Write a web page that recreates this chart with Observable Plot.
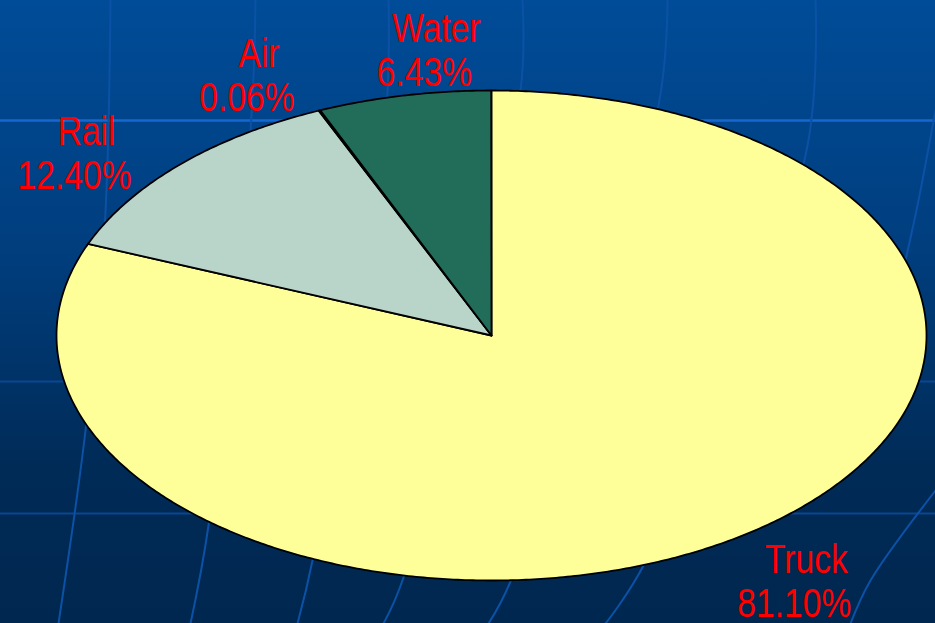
<!DOCTYPE html>
<html>
<head>
<meta charset="utf-8">
<script src="https://cdn.jsdelivr.net/npm/d3@7"></script>
<script src="https://cdn.jsdelivr.net/npm/@observablehq/plot@0.6"></script>
<style>
  html, body { margin: 0; padding: 0; }
  #stage {
    position: relative; width: 935px; height: 623px; overflow: hidden;
    background: linear-gradient(to bottom, #004c98 0%, #003e7e 40%, #002b57 75%, #00274f 100%);
  }
  #stage > svg, #stage > figure { position: absolute; left: 0; top: 0; margin: 0; }
</style>
</head>
<body>
<div id="stage"></div>
<script>
// ---- chart data ----
const modes    = ["Truck", "Rail", "Air", "Water"];
const shares   = [81.10, 12.40, 0.06, 6.43];
const pctLabel = ["81.10%", "12.40%", "0.06%", "6.43%"];
const sliceColors = ["#ffff99", "#b9d4c9", "#9fc5e8", "#226c5a"];

// ---- decorative slide background grid (pixel space) ----
const bgLines = [
  {id: "h1", kind: "bright", pts: [[0,120],[935,120]]},
  {id: "h2", kind: "faint",  pts: [[0,381],[935,381]]},
  {id: "h3", kind: "faint",  pts: [[0,513],[935,513]]},
  {id: "vA", kind: "vert", pts: [[110,0],[104,230],[85,430],[58,623]]},
  {id: "vB", kind: "vert", pts: [[255,0],[250,130],[208,525],[190,623]]},
  {id: "vC", kind: "vert", pts: [[388,0],[385,120],[312,560],[297,623]]},
  {id: "vD", kind: "vert", pts: [[522,0],[520,90],[403,577],[383,623]]},
  {id: "vE", kind: "vert", pts: [[667,0],[658,105],[510,581],[488,623]]},
  {id: "vF", kind: "vert", pts: [[815,0],[805,155],[643,565],[605,623]]},
  {id: "vG", kind: "vert", pts: [[935,110],[918,200],[905,260]]},
  {id: "vH", kind: "vert", pts: [[935,490],[870,580],[850,623]]}
];
const bgPoints = bgLines.flatMap(l => l.pts.map(([x, y]) => ({id: l.id, kind: l.kind, x, y})));

const W = 935, H = 623;
const stage = document.getElementById("stage");

const bg = Plot.plot({
  width: W, height: H, margin: 0,
  style: {background: "transparent"},
  x: {domain: [0, W], range: [0, W], axis: null},
  y: {domain: [0, H], range: [0, H], axis: null},
  color: {domain: ["bright", "faint", "vert"], range: ["#1668d0", "#0b4790", "#0b52a6"]},
  marks: [
    Plot.line(bgPoints, {x: "x", y: "y", z: "id", stroke: "kind", strokeWidth: d => d.kind === "bright" ? 2.5 : 2, curve: "catmull-rom"})
  ]
});
stage.appendChild(bg);

// ---- pie geometry (unit circle, squashed by the scales into an ellipse) ----
const rows = modes.map((m, i) => ({mode: m, share: shares[i], pct: pctLabel[i]}));
const arcs = d3.pie().sort(null).value(d => d.share).startAngle(0).endAngle(2 * Math.PI * d3.sum(shares) / 100)(rows);

const slicePts = [];
for (const a of arcs) {
  const n = Math.max(2, Math.ceil((a.endAngle - a.startAngle) / (Math.PI / 360)));
  slicePts.push({mode: a.data.mode, x: 0, y: 0});
  for (let k = 0; k <= n; k++) {
    const t = a.startAngle + (a.endAngle - a.startAngle) * k / n;
    slicePts.push({mode: a.data.mode, x: Math.sin(t), y: Math.cos(t)});
  }
  slicePts.push({mode: a.data.mode, x: 0, y: 0});
}

// label anchors at slice mid-angle on the rim
const labelRows = arcs.map(a => {
  const t = (a.startAngle + a.endAngle) / 2;
  return {mode: a.data.mode, pct: a.data.pct, x: Math.sin(t), y: Math.cos(t)};
});
// pixel nudges of each label block from its rim anchor (layout tweak)
const labelOffset = {
  Truck: [65.5, 34],
  Rail:  [-99.5, -19],
  Air:   [-66.5, -43],
  Water: [26.5, -54]
};
const font = "'Liberation Sans', Arial, sans-serif";
const labelMarks = labelRows.flatMap(d => {
  const [ox, oy] = labelOffset[d.mode];
  const common = {x: "x", y: "y", fill: "#ff0000", textAnchor: "middle", lineAnchor: "bottom", fontSize: 41, fontFamily: font};
  return [
    Plot.text([d], {...common, text: "mode", dx: ox + 6, dy: oy}),
    Plot.text([d], {...common, text: "pct", dx: ox - 6, dy: oy + 44})
  ];
});

const pie = Plot.plot({
  width: W, height: H, margin: 0,
  style: {background: "transparent", overflow: "visible"},
  x: {domain: [-1, 1], range: [56, 926], axis: null},
  y: {domain: [-1, 1], range: [580, 90], axis: null},
  color: {domain: modes, range: sliceColors},
  marks: [
    Plot.line(slicePts, {x: "x", y: "y", z: "mode", fill: "mode", stroke: "#000", strokeWidth: 1.8, strokeLinejoin: "round"}),
    ...labelMarks
  ]
});
stage.appendChild(pie);

// narrow the label face (Arial Narrow look) by compressing glyphs horizontally
pie.querySelectorAll("text").forEach(el => {
  const w = el.getComputedTextLength();
  if (w > 0) {
    el.setAttribute("textLength", (w * 0.82).toFixed(1));
    el.setAttribute("lengthAdjust", "spacingAndGlyphs");
  }
});
</script>
</body>
</html>
